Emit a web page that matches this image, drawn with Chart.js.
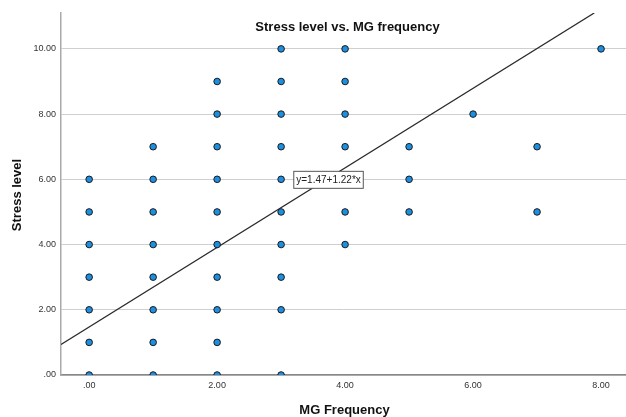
<!DOCTYPE html>
<html>
<head>
<meta charset="utf-8">
<script src="https://cdn.jsdelivr.net/npm/chart.js@4.4.1/dist/chart.umd.min.js"></script>
<style>
  html, body { margin: 0; padding: 0; background: #fff; }
  #wrap { width: 626px; height: 417px; }
</style>
</head>
<body>
<div id="wrap"><canvas id="chart" width="626" height="417"></canvas></div>
<script>
// observed cases: MG frequency (x) and stress level (y)
const mgFrequency = [
  0, 0, 0, 0, 0, 0, 0,
  1, 1, 1, 1, 1, 1, 1, 1,
  2, 2, 2, 2, 2, 2, 2, 2, 2, 2,
  3, 3, 3, 3, 3, 3, 3, 3, 3, 3,
  4, 4, 4, 4, 4, 4,
  5, 5, 5,
  6,
  7, 7,
  8
];
const stressLevel = [
  0, 1, 2, 3, 4, 5, 6,
  0, 1, 2, 3, 4, 5, 6, 7,
  0, 1, 2, 3, 4, 5, 6, 7, 8, 9,
  0, 2, 3, 4, 5, 6, 7, 8, 9, 10,
  4, 5, 7, 8, 9, 10,
  5, 6, 7,
  8,
  5, 7,
  10
];

// fit line y = a + b*x
const intercept = 1.47;
const slope = 1.22;
const fitLabel = 'y=1.47+1.22*x';

const xTicks = [0, 2, 4, 6, 8];
const xTickLabels = ['.00', '2.00', '4.00', '6.00', '8.00'];
const yTicks = [0, 2, 4, 6, 8, 10];
const yTickLabels = ['.00', '2.00', '4.00', '6.00', '8.00', '10.00'];

const chartTitle = 'Stress level vs. MG frequency';
const xTitle = 'MG Frequency';
const yTitle = 'Stress level';

const xMin = -0.44, xMax = 8.39;
const yMin = 0, yMax = 11.1;

const points = mgFrequency.map((x, i) => ({ x, y: stressLevel[i] }));
const fitLine = [
  { x: xMin, y: intercept + slope * xMin },
  { x: (yMax - intercept) / slope, y: yMax }
];

const FONT = '"Liberation Sans", Arial, sans-serif';

const overlay = {
  id: 'overlay',
  afterDraw(chart) {
    const { ctx, chartArea, scales } = chart;
    const cx = (chartArea.left + chartArea.right) / 2;
    const cy = (chartArea.top + chartArea.bottom) / 2;
    ctx.save();
    ctx.fillStyle = '#111';
    ctx.font = 'bold 13px ' + FONT;
    ctx.textAlign = 'center';
    ctx.textBaseline = 'middle';
    // title inside plot area
    ctx.fillText(chartTitle, cx + 4, 27);
    // axis titles
    ctx.fillText(xTitle, cx + 1, 410);
    ctx.save();
    ctx.translate(17, cy + 1);
    ctx.rotate(-Math.PI / 2);
    ctx.fillText(yTitle, 0, 0);
    ctx.restore();

    // fit label box
    ctx.font = '10px ' + FONT;
    const bx = scales.x.getPixelForValue(3.19);
    const by = scales.y.getPixelForValue(6);
    const w = ctx.measureText(fitLabel).width + 5;
    const h = 17;
    ctx.fillStyle = '#fff';
    ctx.fillRect(bx + 0.5, by - h / 2 + 0.5, w, h);
    ctx.strokeStyle = '#555';
    ctx.lineWidth = 1;
    ctx.strokeRect(bx + 0.5, by - h / 2 + 0.5, w, h);
    ctx.fillStyle = '#222';
    ctx.textAlign = 'left';
    ctx.fillText(fitLabel, bx + 3, by + 1);
    ctx.restore();
  }
};

new Chart(document.getElementById('chart'), {
  type: 'scatter',
  data: {
    datasets: [
      {
        type: 'line',
        data: fitLine,
        borderColor: '#2b2b2b',
        borderWidth: 1.3,
        pointRadius: 0,
        fill: false,
        order: 2
      },
      {
        data: points,
        backgroundColor: '#1d8fe1',
        borderColor: '#1a1a1a',
        borderWidth: 1,
        pointRadius: 3.3,
        clip: 0,
        order: 1
      }
    ]
  },
  options: {
    responsive: false,
    animation: false,
    layout: { autoPadding: false, padding: { top: 13, right: 0, left: 0, bottom: 0 } },
    plugins: { legend: { display: false }, tooltip: { enabled: false } },
    scales: {
      x: {
        type: 'linear',
        min: xMin,
        max: xMax,
        afterBuildTicks: s => { s.ticks = xTicks.map(v => ({ value: v })); },
        afterFit: s => { s.height = 42; s.paddingLeft = 0; s.paddingRight = 0; },
        ticks: {
          callback: (v) => xTickLabels[xTicks.indexOf(v)],
          font: { size: 9, family: FONT },
          color: '#333',
          padding: 5,
          maxRotation: 0
        },
        grid: { display: false, drawTicks: false },
        border: { color: '#888', width: 1.5 }
      },
      y: {
        type: 'linear',
        min: yMin,
        max: yMax,
        afterBuildTicks: s => { s.ticks = yTicks.map(v => ({ value: v })); },
        afterFit: s => { s.width = 61; s.paddingTop = 0; s.paddingBottom = 0; },
        ticks: {
          callback: (v) => yTickLabels[yTicks.indexOf(v)],
          font: { size: 9, family: FONT },
          color: '#333',
          padding: 5
        },
        grid: { color: '#cfcfcf', lineWidth: 1, drawTicks: false },
        border: { color: '#aaa', width: 1.5 }
      }
    }
  },
  plugins: [overlay]
});
</script>
</body>
</html>
